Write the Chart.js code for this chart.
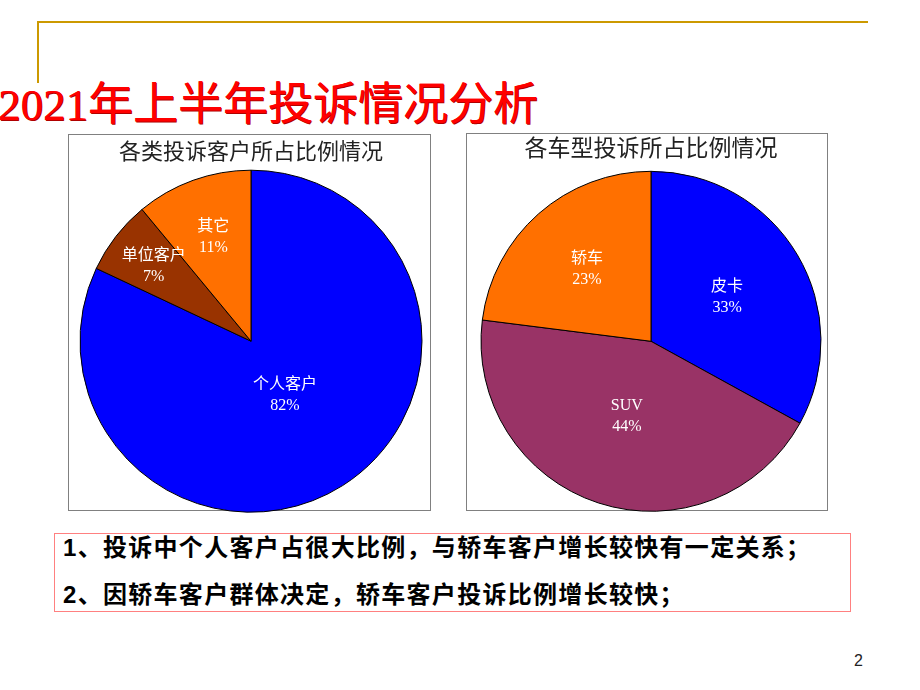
<!DOCTYPE html>
<html>
<head>
<meta charset="utf-8">
<script src="https://cdn.jsdelivr.net/npm/chart.js@4"></script>
<style>
  body { margin: 0; background: #fff; }
  #page { position: relative; width: 920px; height: 690px; overflow: hidden; background: #fff; }
  .abs { position: absolute; }
  .gold { background: #cc9900; }
  .frame { box-sizing: border-box; border: 1px solid #808080; }
  #mainTitle {
    left: -2px; top: 83px; font-size: 45px; line-height: 45px; font-weight: normal;
    color: #ff0000; white-space: nowrap;
    font-family: "Liberation Serif", "Noto Sans CJK SC", sans-serif;
    text-shadow: 1px 1px 0 #b00000, 0.5px 0 0 #ff0000;
  }
  #notes { box-sizing: border-box; left: 54px; top: 533px; width: 797px; height: 79px; border: 1.5px solid #ff8080; }
  .note {
    font-size: 24px; line-height: 24px; font-weight: bold; letter-spacing: 1.3px; white-space: nowrap;
    color: #000; font-family: "Liberation Sans", "Noto Sans CJK SC", sans-serif; left: 63px;
  }
  #pageNo { left: 854px; top: 652px; font-size: 16px; color: #222; font-family: "Liberation Sans", sans-serif; }
</style>
</head>
<body>
<div id="page">
  <div class="abs gold" style="left:37px;top:21px;width:831px;height:2px"></div>
  <div class="abs gold" style="left:37px;top:21px;width:2px;height:62px"></div>
  <div id="mainTitle" class="abs">2021年上半年投诉情况分析</div>

  <div class="abs frame" style="left:68px;top:134px;width:363px;height:377px"></div>
  <div class="abs frame" style="left:466px;top:133px;width:362px;height:378px"></div>
  <canvas id="customerChart" class="abs" style="left:68px;top:134px" width="363" height="385"></canvas>
  <canvas id="modelChart" class="abs" style="left:466px;top:133px" width="362" height="389"></canvas>

  <div id="notes" class="abs"></div>
  <div class="abs note" style="top:536px">1、投诉中个人客户占很大比例，与轿车客户增长较快有一定关系；</div>
  <div class="abs note" style="top:583px">2、因轿车客户群体决定，轿车客户投诉比例增长较快；</div>
  <div id="pageNo" class="abs">2</div>
</div>

<script>
const customerLabels = ["个人客户", "单位客户", "其它"];
const customerShares = [82, 7, 11];

const modelLabels = ["皮卡", "SUV", "轿车"];
const modelShares = [33, 44, 23];

// label text inside each slice: name on one line, percent below
const sliceLabels = {
  id: "sliceLabels",
  afterDatasetsDraw(chart, args, opts) {
    const ctx = chart.ctx;
    const meta = chart.getDatasetMeta(0);
    const labels = chart.data.labels;
    const values = chart.data.datasets[0].data;
    ctx.save();
    ctx.fillStyle = "#ffffff";
    ctx.textAlign = "center";
    ctx.textBaseline = "middle";
    ctx.font = '16px "Liberation Serif", "Noto Sans CJK SC", serif';
    meta.data.forEach((arc, i) => {
      const mid = (arc.startAngle + arc.endAngle) / 2;
      const dist = arc.outerRadius * opts.depth[i];
      const x = arc.x + Math.cos(mid) * dist;
      const y = arc.y + Math.sin(mid) * dist;
      ctx.fillText(labels[i], x, y - 10);
      ctx.fillText(values[i] + "%", x, y + 11);
    });
    ctx.restore();
  },
};

function makePie(id, labels, values, colors, title, titleSize, titleTop, padLeft, radius, depth) {
  return new Chart(document.getElementById(id), {
    type: "pie",
    data: {
      labels: labels,
      datasets: [
        {
          data: values,
          backgroundColor: colors,
          borderColor: "#000000",
          borderWidth: 1,
          radius: radius,
        },
      ],
    },
    options: {
      responsive: false,
      animation: false,
      layout: { padding: { left: padLeft } },
      plugins: {
        legend: { display: false },
        tooltip: { enabled: false },
        title: {
          display: true,
          text: title,
          color: "#222222",
          font: { size: titleSize, weight: "normal", family: '"Noto Sans CJK SC", sans-serif' },
          padding: { top: titleTop, bottom: 0 },
        },
        sliceLabels: { depth: depth },
      },
    },
    plugins: [sliceLabels],
  });
}

makePie(
  "customerChart",
  customerLabels,
  customerShares,
  ["#0000ff", "#993300", "#ff7000"],
  "各类投诉客户所占比例情况",
  22,
  3,
  3,
  171,
  [0.37, 0.72, 0.65]
);

makePie(
  "modelChart",
  modelLabels,
  modelShares,
  ["#0000ff", "#993366", "#ff7000"],
  "各车型投诉所占比例情况",
  23,
  0,
  8,
  170,
  [0.52, 0.46, 0.57]
);
</script>
</body>
</html>
